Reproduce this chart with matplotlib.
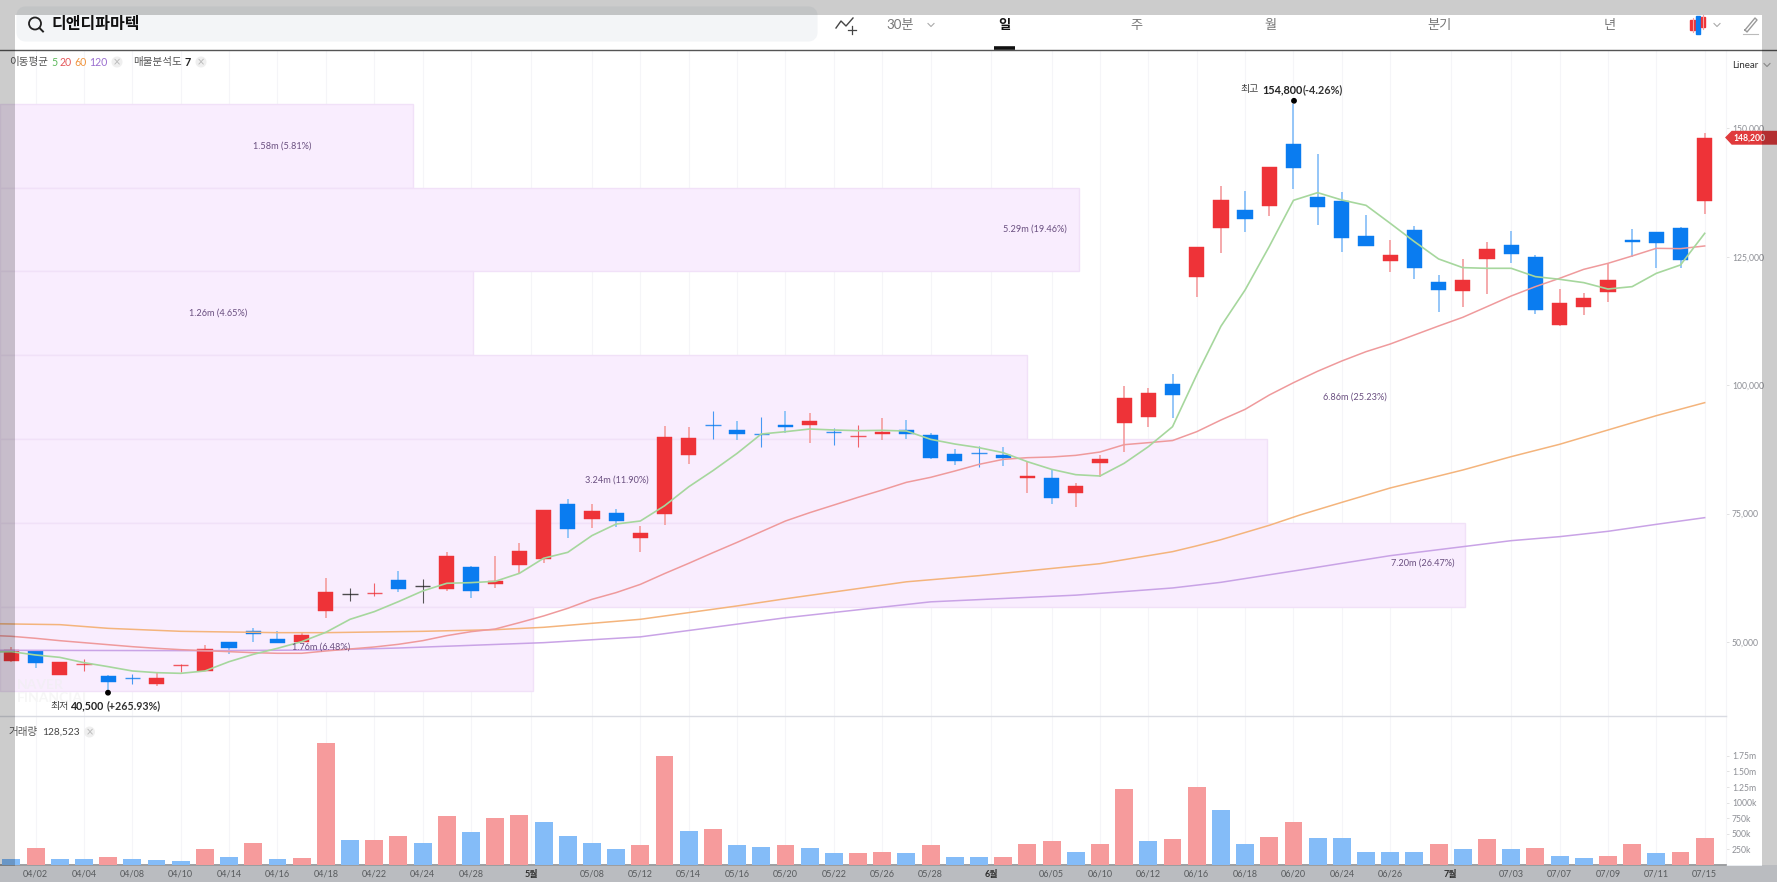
import matplotlib
matplotlib.use("Agg")
import matplotlib.pyplot as plt
from matplotlib.patches import Rectangle, Circle, Polygon, FancyBboxPatch
import numpy as np

plt.rcParams['font.family'] = ['Lato', 'Noto Sans CJK KR', 'DejaVu Sans']

# ---------- data ----------
opens = [46280,48230,43490,45700,43430,43100,41740,45310,44340,49980,52060,50500,50050,56020,59330,59520,61990,60890,60370,64590,
         61280,65000,66080,76920,73990,75160,70300,74900,86330,92300,91190,90610,92300,92160,91060,89890,90410,91190,90280,86580,
         86970,86390,81910,81840,78920,84770,92680,93720,100150,121050,130530,134160,134810,146880,136630,135910,129030,124230,130140,120080,
         118390,124550,127280,124940,111700,115210,118060,128320,129880,130660,135780]
closes = [48490,45960,46090,45830,42260,42980,43040,45500,48690,48810,51480,49790,51280,59650,59330,59650,60370,60890,66730,59910,
          61860,67770,75680,72050,75490,73610,71270,89960,89770,92160,90410,90480,91900,92940,90740,90150,90870,90410,85740,85280,
          86710,85870,82360,78080,80290,85540,97490,98400,98010,126960,136100,132340,142470,142340,134610,128640,127090,125330,122800,118580,
          120400,126570,125460,114560,115990,117030,120530,127930,127600,124360,148200]
highs = [48940,48300,46090,46610,43560,43750,43880,45700,49460,49980,52640,52120,51670,62380,60430,61400,63810,62180,67570,64780,
         66730,69350,75700,77820,76790,75880,72570,92100,91780,94890,92940,93850,94890,94500,91580,92160,93530,93140,90610,87490,
         88200,87880,84960,83470,80870,86450,99820,99430,102160,126960,138770,137730,142470,154800,144930,137530,133120,128190,130980,121440,
         124490,127860,129940,125270,118650,117870,123580,130460,129880,130850,149150]
lows = [46150,44990,43490,44340,40500,41740,41420,44140,44270,47650,49920,49720,49920,54590,57970,58940,59650,57510,59850,58620,
        60560,63400,65430,70300,72180,72440,67440,72760,84570,89570,89310,87950,90610,88660,88270,87950,89310,89570,85540,84380,
        83990,84310,79050,76780,76260,82170,87040,91900,93530,117220,125790,129880,133000,138120,131240,125980,127090,121960,120730,114170,
        115210,117680,123840,113850,111570,113650,116120,125010,122740,122740,133380]

ma5 = [48000,48100,47450,46990,45960,45180,44340,44010,43880,44340,46150,47580,48750,50050,51870,54400,55890,57840,59910,61410,61540,
       61790,63350,66280,67440,70700,72950,73540,76500,80200,83340,86710,90480,90930,91450,91260,91130,91190,91060,89440,88530,
       87820,86840,85090,83600,82560,82300,84770,88010,91900,102000,111450,118520,127000,135980,137470,136040,135000,131500,127930,124560,
       122870,122740,122740,121120,120600,119950,118710,119170,121760,123390,129550]
ma20 = [51300,51090,50700,50240,49850,49460,49070,48750,48490,48290,48100,47900,47780,47780,48230,48620,49010,49530,50240,51220,51990,
        52510,53750,55050,56540,58290,59600,61200,63300,65300,67370,69380,71460,73540,75160,76650,78150,79570,81070,82040,83270,
        84570,85540,85870,86000,86320,86970,88400,88790,89200,90930,93200,95280,98070,100470,102700,104700,106510,108000,109760,111510,
        113200,115270,117350,119170,120790,122540,123710,125140,126630,126570,127090]
ma60_idx = [-1,0,2,4,7,11,13,17,20,22,24,26,28,30,32,37,40,45,48,49,50,52,53.27,55,57,60,62,64,66,68,70]
ma60 = [53550,53490,53360,52640,52060,51800,51800,52060,52380,52840,53620,54400,55700,57000,58400,61700,62900,65230,67570,68700,69900,72700,74710,77170,79970,83470,86070,88470,91260,94050,96580]
ma120_idx = [-1,0,8,13,16,22,25,26,32,38,44,48,50,53.27,55,57,60,62,64,66,68,70]
ma120 = [48360,48360,48290,48430,48810,49850,50700,50980,54700,57800,59100,60500,61600,64000,65300,66790,68540,69710,70490,71530,72890,74190]

volumes = [96,273,96,96,123,96,80,70,257,123,359,96,113,1956,402,402,472,348,793,530,750,809,691,472,354,252,327,1747,541,573,
           327,295,327,268,193,193,209,193,327,134,123,134,343,386,209,343,1216,386,413,1243,879,338,456,686,439,429,204,204,204,338,
           252,413,252,279,150,107,150,338,193,204,439]
vol_up = [0,1,0,0,1,0,0,0,1,0,1,0,1,1,0,1,1,0,1,0,1,1,0,0,0,0,1,1,0,1,
          0,0,1,0,0,1,1,0,1,0,0,1,1,1,0,1,1,0,1,1,0,0,1,1,0,0,0,0,0,1,
          0,1,0,1,0,0,1,1,0,1,1]

band_edges = [154800,138471,122143,105814,89486,73157,56829,40500]
band_right = [16.62,44.13,19.07,41.98,51.9,60.08,21.55]
band_labels = ["1.58m (5.81%)","5.29m (19.46%)","1.26m (4.65%)","6.86m (25.23%)","3.24m (11.90%)","7.20m (26.47%)","1.76m (6.48%)"]

date_idx = [1,3,5,7,9,11,13,15,17,19,21.5,24,26,28,30,32,34,36,38,40.5,43,45,47,49,51,53,55,57,59.5,62,64,66,68,70]
date_labels = ["04/02","04/04","04/08","04/10","04/14","04/16","04/18","04/22","04/24","04/28","5월","05/08","05/12","05/14",
               "05/16","05/20","05/22","05/26","05/28","6월","06/05","06/10","06/12","06/16","06/18","06/20","06/24","06/26",
               "7월","07/03","07/07","07/09","07/11","07/15"]
price_ticks = [50000,75000,100000,125000,150000]
vol_ticks = [250,500,750,1000,1250,1500,1750]
vol_tick_labels = ["250k","500k","750k","1000k","1.25m","1.50m","1.75m"]

# ---------- layout ----------
W, H = 1777, 882
fig = plt.figure(figsize=(W/100, H/100), dpi=100, facecolor='white')
def axpx(l, t, r, b, **k):
    return fig.add_axes([l/W, 1-b/H, (r-l)/W, (b-t)/H], **k)

X0, DX = 11.4, 24.19
RIGHT = 1726
xlim = (-X0/DX, (RIGHT-X0)/DX)
ax = axpx(0, 50, RIGHT, 716)
vx = axpx(0, 716, RIGHT, 865)
def price_at(y):
    return 150000-(y-128.3)*25000/128.4
ax.set_xlim(xlim); vx.set_xlim(xlim)
ax.set_ylim(price_at(716), price_at(50))
vx.set_ylim(0, (864.6-716)/15.55*250)

RED, BLUE = '#ee3338', '#0a7cf0'
REDW, BLUEW = '#f5a3a5', '#8cc2f8'
GRID = '#f5f5f8'

for a in (ax, vx):
    for s in a.spines.values():
        s.set_visible(False)
    a.set_xticks(date_idx)
    a.grid(axis='x', color=GRID, lw=0.8, zorder=0)
    a.set_axisbelow(True)
    a.yaxis.tick_right()
    a.tick_params(axis='y', length=2.2, width=0.6, color='#dddddd', pad=2, labelsize=6.2, labelcolor='#8e9096')
ax.tick_params(axis='x', length=0, labelbottom=False)
vx.tick_params(axis='x', length=0, pad=3.5, labelsize=6.5, labelcolor='#6f7276')
ax.set_yticks(price_ticks)
ax.set_yticklabels([f"{v:,}" for v in price_ticks])
vx.set_yticks(vol_ticks)
vx.set_yticklabels(vol_tick_labels)
vx.set_xticklabels(date_labels)
for t in vx.get_xticklabels():
    if '월' in t.get_text():
        t.set_fontweight('bold'); t.set_color('#3a3a3a')
vx.spines['top'].set_visible(True); vx.spines['top'].set_color('#d9dbe2'); vx.spines['top'].set_linewidth(1)
vx.spines['bottom'].set_visible(True); vx.spines['bottom'].set_color('#8d8f92'); vx.spines['bottom'].set_linewidth(1.2)
ax.spines['right'].set_visible(True); ax.spines['right'].set_color(GRID)
vx.spines['right'].set_visible(True); vx.spines['right'].set_color(GRID)

# volume-profile bands
for i, right in enumerate(band_right):
    lo, hi = band_edges[i+1], band_edges[i]
    ax.barh((lo+hi)/2, right-xlim[0], height=hi-lo, left=xlim[0], color='#f9edfe',
            edgecolor='#f1e1f8', linewidth=1, zorder=1)

# candles
x = np.arange(len(opens))
for i, (o, c, h, l) in enumerate(zip(opens, closes, highs, lows)):
    if c > o:
        col, wick = RED, REDW
    elif c < o:
        col, wick = BLUE, BLUEW
    else:
        col, wick = '#222222', '#222222'
    thin = abs(c-o) < 350
    ax.vlines(i, l, h, color=(col if thin else wick), lw=(0.8 if thin else 1.3), alpha=(0.75 if thin else 1), zorder=3)
    if thin:
        ax.hlines((o+c)/2, i-0.315, i+0.315, color=col, lw=1.0, alpha=0.8, zorder=4)
    else:
        ax.bar(i, abs(c-o), bottom=min(o, c), width=0.63, color=col, edgecolor=col, linewidth=0.3, zorder=4)

# moving averages
xm = np.arange(-1, len(opens))
ax.plot(ma60_idx, ma60, color='#f4b47c', lw=1.1, zorder=5)
ax.plot(ma120_idx, ma120, color='#c9a3e6', lw=1.1, zorder=5)
ax.plot(xm, ma20, color='#ef9a9c', lw=1.1, zorder=5)
ax.plot(xm, ma5, color='#a6d79d', lw=1.2, zorder=5)

# volume
vx.bar(x, volumes, width=0.74, color=['#f69b9c' if u else '#84bcf8' for u in vol_up], zorder=3)

# ---------- overlay in pixels ----------
ov = fig.add_axes([0, 0, 1, 1], zorder=10)
ov.set_xlim(0, W); ov.set_ylim(H, 0); ov.axis('off'); ov.patch.set_alpha(0)
def T(px, py, s, size=7.5, color='#555555', weight='normal', ha='left', **k):
    return ov.text(px, py, s, fontsize=size, color=color, fontweight=weight, ha=ha, va='center', **k)

# bottom date band (beneath the date labels)
fig.patches.append(Rectangle((0, 0), 1, 17/H, transform=fig.transFigure, facecolor='#e9ecf0', edgecolor='none', zorder=-5))

# band labels
for s, px, py in zip(band_labels, [282.5, 1035, 218, 1354.5, 617, 1423, 321], [146, 229, 313, 397, 480, 563, 647]):
    T(px, py, s, size=6.6, color='#6a4f80', ha='center', zorder=6)

# high/low annotations
ov.add_patch(Circle((1294, 100.8), 2.2, color='black'))
ov.add_patch(Circle((108, 692.7), 2.2, color='black'))
T(1240, 89.5, "최고", size=7.2, color='#444444')
T(1262, 89.5, "154,800", size=7.8, color='#222222', weight='bold')
T(1302.5, 89.5, "(-4.26%)", size=7.8, color='#333333', weight='bold')
T(50, 706, "최저", size=7.2, color='#444444')
T(71, 706, "40,500", size=7.7, color='#222222', weight='bold')
T(107, 706, "(+265.93%)", size=7.7, color='#333333', weight='bold')

# watermark
T(17, 685, "NAVER", size=10, color='#f3eef6', weight='bold')
T(17, 698, "FINANCIAL", size=10, color='#f6f6f6', weight='bold')

# legend row
def closer(cx, cy):
    ov.add_patch(Circle((cx, cy), 5.5, color='#efefef', lw=0))
    T(cx, cy, "×", size=7, color='#b8b8b8', ha='center', family=['DejaVu Sans'])
T(9, 62, "이동평균", size=7.6, color='#555555')
T(51, 62, "5", size=7.6, color='#5cb85c')
T(59.5, 62, "20", size=7.6, color='#e5575a')
T(74, 62, "60", size=7.6, color='#f0953f')
T(89.5, 62, "120", size=7.6, color='#9b6fd0')
closer(117, 62)
T(133, 62, "매물분석도", size=7.6, color='#555555')
T(184.5, 62, "7", size=7.8, color='#222222', weight='bold')
closer(201, 62)
T(9, 732, "거래량", size=7.6, color='#555555')
T(42, 732, "128,523", size=7.3, color='#444444')
closer(89.5, 732)

# header
ov.add_patch(FancyBboxPatch((22, 12), 790, 24, boxstyle="round,pad=0,rounding_size=4", mutation_scale=1,
                            facecolor='#f3f5f7', edgecolor='#f3f5f7', lw=8, zorder=1))
ov.add_patch(Circle((35, 23.5), 6, fill=False, ec='#222222', lw=1.3, zorder=2))
ov.plot([39.5, 43], [28, 31.5], color='#222222', lw=1.4, zorder=2)
T(51, 24, "디앤디파마텍", size=11.5, color='#111111', weight='bold', zorder=2)
ov.plot([0, W], [49.5, 49.5], color='#555555', lw=1, zorder=3)
ov.plot([994, 1015], [47.8, 47.8], color='#111111', lw=2.6, solid_capstyle='butt', zorder=4)
for px, s, c, w in [(900, "30분", '#777777', 'normal'), (1004, "일", '#111111', 'bold'), (1136.5, "주", '#777777', 'normal'),
                    (1270, "월", '#777777', 'normal'), (1440, "분기", '#777777', 'normal'), (1610, "년", '#777777', 'normal')]:
    T(px, 24.5, s, size=9.5, color=c, weight=w, ha='center')
def chev(cx, cy):
    ov.plot([cx-3, cx, cx+3], [cy-1.5, cy+1.5, cy-1.5], color='#aaaaaa', lw=0.8)
chev(931, 25); chev(1717, 25)
ov.plot([836, 841, 846, 853], [28, 21, 26, 18], color='#444444', lw=1.0)
ov.plot([848, 856], [30, 30], color='#444444', lw=0.9); ov.plot([852, 852], [26, 34], color='#444444', lw=0.9)
# candle icon / pencil
ov.plot([1692.5, 1692.5], [18, 32], color='#f5a3a5', lw=0.8)
ov.plot([1702.5, 1702.5], [15, 29], color='#f5a3a5', lw=0.8)
ov.add_patch(Rectangle((1690, 20), 5, 10, color='#ee3338'))
ov.add_patch(Rectangle((1695.5, 16), 4, 18, color='#0a7cf0'))
ov.add_patch(Rectangle((1700.5, 17), 4, 10, color='#ee3338'))
ov.plot([1745, 1755, 1757, 1747, 1745], [30, 18, 20, 32, 30], color='#999999', lw=1)
ov.plot([1743, 1758], [34, 34], color='#bbbbbb', lw=0.8)
T(1732, 65, "Linear", size=7, color='#333333')
chev(1767, 65)

# last-price tag
ov.add_patch(Polygon([(1726, 137.5), (1732, 131.5), (W, 131.5), (W, 144), (1732, 144)], closed=True, color='#e03a3c', zorder=5))
T(1733, 137.7, "148,200", size=6.2, color='white', weight='bold', zorder=6)

# translucent frame around the capture
shade = dict(facecolor='black', alpha=0.2, edgecolor='none', zorder=20)
ov.add_patch(Rectangle((0, 0), W, 15, **shade))
ov.add_patch(Rectangle((0, 15), 15, 851, **shade))
ov.add_patch(Rectangle((1762, 15), 15, 851, **shade))
ov.add_patch(Rectangle((0, 866), W, 16, **shade))

fig.savefig('out.png', dpi=100)
